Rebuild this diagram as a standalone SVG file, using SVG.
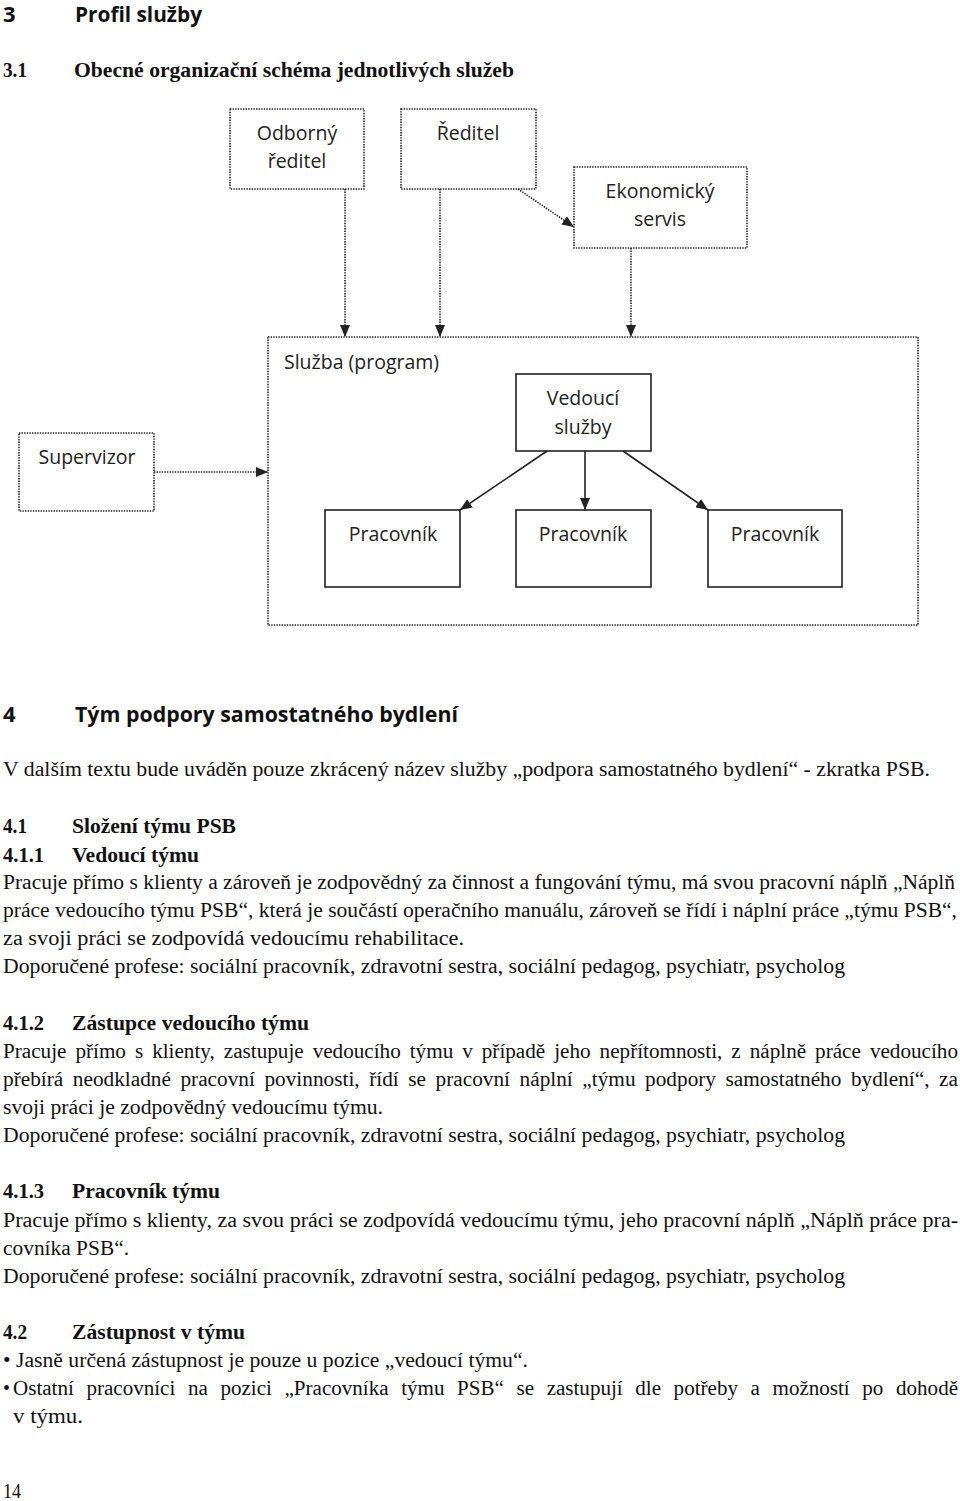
<svg xmlns="http://www.w3.org/2000/svg" width="960" height="1501" viewBox="0 0 960 1501">
<style>
.dot{fill:none;stroke:#222;stroke-width:1.6;stroke-dasharray:1.4 1.2}
.sol{fill:#fff;stroke:#222;stroke-width:1.6}
.dl{fill:none;stroke:#222;stroke-width:1.6;stroke-dasharray:1.4 1.2}
.sl{fill:none;stroke:#222;stroke-width:1.6}
.lbl{font-family:"Open Sans","Noto Sans",sans-serif;font-size:19.5px;fill:#222}
.c{text-anchor:middle}
.h1{font-family:"Open Sans","Noto Sans",sans-serif;font-weight:bold;font-size:22px;fill:#111}
.h2{font-family:"Liberation Serif","Times New Roman",serif;font-weight:bold;font-size:21px;fill:#111}
.b{font-family:"Liberation Serif","Times New Roman",serif;font-size:20px;fill:#111}
.bb{font-family:"Liberation Serif","Times New Roman",serif;font-weight:bold;font-size:20px;fill:#111}
</style>
<defs>
<marker id="ah" viewBox="0 0 12 10" refX="12" refY="5" markerWidth="12" markerHeight="10" markerUnits="userSpaceOnUse" orient="auto">
<path d="M0,0 L12,5 L0,10 Z" fill="#222"/>
</marker>
</defs>

<g id="headings">
<text x="3" y="22" class="h1">3</text>
<text x="75" y="22" class="h1" textLength="127" lengthAdjust="spacingAndGlyphs">Profil služby</text>
<text x="3" y="77" class="h2" textLength="24" lengthAdjust="spacingAndGlyphs">3.1</text>
<text x="74" y="77" class="h2" textLength="440" lengthAdjust="spacingAndGlyphs">Obecné organizační schéma jednotlivých služeb</text>
</g>

<g id="node-odborny">
<rect x="230" y="109" width="134" height="80" class="dot"/>
<text x="297" y="140" class="lbl c">Odborný</text>
<text x="297" y="168" class="lbl c">ředitel</text>
</g>
<g id="node-reditel">
<rect x="401" y="109" width="135" height="80" class="dot"/>
<text x="468" y="140" class="lbl c">Ředitel</text>
</g>
<g id="node-ekonomicky">
<rect x="574" y="167" width="173" height="81" class="dot"/>
<text x="660" y="198" class="lbl c">Ekonomický</text>
<text x="660" y="226" class="lbl c">servis</text>
</g>
<g id="node-sluzba">
<rect x="268" y="337" width="650" height="288" class="dot"/>
<text x="284" y="369" class="lbl">Služba (program)</text>
</g>
<g id="node-supervizor">
<rect x="19" y="433" width="135" height="78" class="dot"/>
<text x="87" y="464" class="lbl c">Supervizor</text>
</g>
<g id="node-vedouci">
<rect x="516" y="374" width="135" height="77" class="sol"/>
<text x="583" y="405" class="lbl c">Vedoucí</text>
<text x="583" y="434" class="lbl c">služby</text>
</g>
<g id="node-pracovnik1">
<rect x="325" y="510" width="135" height="77" class="sol"/>
<text x="393" y="541" class="lbl c">Pracovník</text>
</g>
<g id="node-pracovnik2">
<rect x="516" y="510" width="135" height="77" class="sol"/>
<text x="583" y="541" class="lbl c">Pracovník</text>
</g>
<g id="node-pracovnik3">
<rect x="708" y="510" width="134" height="77" class="sol"/>
<text x="775" y="541" class="lbl c">Pracovník</text>
</g>

<g id="connectors">
<line x1="345" y1="189" x2="345" y2="337" class="dl" marker-end="url(#ah)"/>
<line x1="440" y1="189" x2="440" y2="337" class="dl" marker-end="url(#ah)"/>
<line x1="631" y1="248" x2="631" y2="337" class="dl" marker-end="url(#ah)"/>
<line x1="518" y1="189" x2="574" y2="227" class="dl" marker-end="url(#ah)"/>
<line x1="154" y1="472" x2="268" y2="472" class="dl" marker-end="url(#ah)"/>
<line x1="547" y1="451" x2="460" y2="510" class="sl" marker-end="url(#ah)"/>
<line x1="585" y1="451" x2="585" y2="510" class="sl" marker-end="url(#ah)"/>
<line x1="623" y1="451" x2="708" y2="510" class="sl" marker-end="url(#ah)"/>
</g>

<g id="text-body">
<text x="3" y="722" class="h1">4</text>
<text x="75" y="722" class="h1" textLength="383" lengthAdjust="spacingAndGlyphs">Tým podpory samostatného bydlení</text>
<text x="3" y="776" class="b" textLength="927" lengthAdjust="spacingAndGlyphs">V dalším textu bude uváděn pouze zkrácený název služby „podpora samostatného bydlení“ - zkratka PSB.</text>

<text x="3" y="833" class="bb" textLength="24" lengthAdjust="spacingAndGlyphs">4.1</text>
<text x="72" y="833" class="bb" textLength="164" lengthAdjust="spacingAndGlyphs">Složení týmu PSB</text>
<text x="3" y="862" class="bb" textLength="41" lengthAdjust="spacingAndGlyphs">4.1.1</text>
<text x="72" y="862" class="bb" textLength="127" lengthAdjust="spacingAndGlyphs">Vedoucí týmu</text>
<text x="3" y="889" class="b" textLength="952" lengthAdjust="spacingAndGlyphs">Pracuje přímo s klienty a zároveň je zodpovědný za činnost a fungování týmu, má svou pracovní náplň „Náplň</text>
<text x="3" y="917" class="b" textLength="954" lengthAdjust="spacingAndGlyphs">práce vedoucího týmu PSB“, která je součástí operačního manuálu, zároveň se řídí i náplní práce „týmu PSB“,</text>
<text x="3" y="945" class="b" textLength="461" lengthAdjust="spacingAndGlyphs">za svoji práci se zodpovídá vedoucímu rehabilitace.</text>
<text x="3" y="973" class="b" textLength="842" lengthAdjust="spacingAndGlyphs">Doporučené profese: sociální pracovník, zdravotní sestra, sociální pedagog, psychiatr, psycholog</text>

<text x="3" y="1030" class="bb" textLength="41" lengthAdjust="spacingAndGlyphs">4.1.2</text>
<text x="72" y="1030" class="bb" textLength="237" lengthAdjust="spacingAndGlyphs">Zástupce vedoucího týmu</text>
<text x="3" y="1058" class="b" word-spacing="3.5" textLength="955" lengthAdjust="spacingAndGlyphs">Pracuje přímo s klienty, zastupuje vedoucího týmu v případě jeho nepřítomnosti, z náplně práce vedoucího</text>
<text x="3" y="1086" class="b" word-spacing="4" textLength="955" lengthAdjust="spacingAndGlyphs">přebírá neodkladné pracovní povinnosti, řídí se pracovní náplní „týmu podpory samostatného bydlení“, za</text>
<text x="3" y="1114" class="b" textLength="380" lengthAdjust="spacingAndGlyphs">svoji práci je zodpovědný vedoucímu týmu.</text>
<text x="3" y="1142" class="b" textLength="842" lengthAdjust="spacingAndGlyphs">Doporučené profese: sociální pracovník, zdravotní sestra, sociální pedagog, psychiatr, psycholog</text>

<text x="3" y="1198" class="bb" textLength="41" lengthAdjust="spacingAndGlyphs">4.1.3</text>
<text x="72" y="1198" class="bb" textLength="148" lengthAdjust="spacingAndGlyphs">Pracovník týmu</text>
<text x="3" y="1227" class="b" textLength="955" lengthAdjust="spacingAndGlyphs">Pracuje přímo s klienty, za svou práci se zodpovídá vedoucímu týmu, jeho pracovní náplň „Náplň práce pra-</text>
<text x="3" y="1255" class="b" textLength="126" lengthAdjust="spacingAndGlyphs">covníka PSB“.</text>
<text x="3" y="1283" class="b" textLength="842" lengthAdjust="spacingAndGlyphs">Doporučené profese: sociální pracovník, zdravotní sestra, sociální pedagog, psychiatr, psycholog</text>

<text x="3" y="1339" class="bb" textLength="24" lengthAdjust="spacingAndGlyphs">4.2</text>
<text x="72" y="1339" class="bb" textLength="173" lengthAdjust="spacingAndGlyphs">Zástupnost v týmu</text>
<text x="3" y="1367" class="b" textLength="525" lengthAdjust="spacingAndGlyphs">• Jasně určená zástupnost je pouze u pozice „vedoucí týmu“.</text>
<text x="3" y="1395" class="b">•</text>
<text x="13" y="1395" class="b" word-spacing="7" textLength="945" lengthAdjust="spacingAndGlyphs">Ostatní pracovníci na pozici „Pracovníka týmu PSB“ se zastupují dle potřeby a možností po dohodě</text>
<text x="13" y="1423" class="b" textLength="70" lengthAdjust="spacingAndGlyphs">v týmu.</text>
<text x="3" y="1498" class="b" textLength="18" lengthAdjust="spacingAndGlyphs">14</text>
</g>
</svg>
